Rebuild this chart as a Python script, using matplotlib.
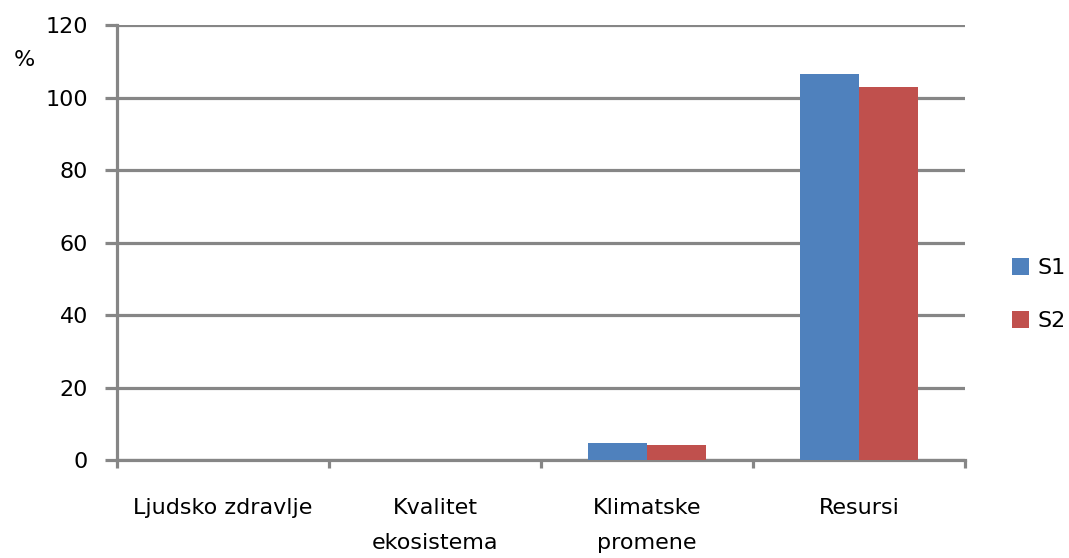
import numpy as np
import matplotlib
matplotlib.use("Agg")
import matplotlib.pyplot as plt

# Podaci
categories = ["Ljudsko zdravlje", "Kvalitet\nekosistema", "Klimatske\npromene", "Resursi"]
s1 = [0.0, 0.0, 4.8, 106.6]
s2 = [0.0, 0.0, 4.1, 102.9]
series_names = ["S1", "S2"]
yticks = [0, 20, 40, 60, 80, 100, 120]

plt.rcParams["font.family"] = ["DejaVu Sans"]
GRID = "#868686"
FS = 16

fig = plt.figure(figsize=(10.69, 5.58), dpi=100)
ax = fig.add_axes([0.1095, 0.1756, 0.7932, 0.7796])

x = np.arange(len(categories))
w = 0.28
ax.bar(x - w / 2, s1, w, color="#4F81BD", label=series_names[0], zorder=3)
ax.bar(x + w / 2, s2, w, color="#C0504D", label=series_names[1], zorder=3)

ax.set_xlim(-0.5, len(categories) - 0.5)
ax.set_ylim(0, 120)
ax.set_yticks(yticks)
ax.yaxis.grid(True, color=GRID, linewidth=2.3, zorder=0)
ax.set_axisbelow(True)

# granice kategorija kao glavni tickovi, nazivi na sredini
ax.set_xticks(np.arange(-0.5, len(categories), 1.0))
ax.set_xticklabels([])
ax.set_xticks(x, minor=True)
ax.set_xticklabels(categories, minor=True, fontsize=FS, linespacing=1.95)
ax.tick_params(axis="x", which="minor", length=0, pad=27)
ax.tick_params(axis="x", which="major", length=6, width=2.3, color=GRID)
ax.tick_params(axis="y", length=9, width=2.3, color=GRID, labelsize=FS, pad=12)

for side in ["top", "right"]:
    ax.spines[side].set_visible(False)
for side in ["left", "bottom"]:
    ax.spines[side].set_color(GRID)
    ax.spines[side].set_linewidth(2.3)

fig.text(0.013, 0.893, "%", fontsize=FS, ha="left", va="center")

ax.legend(loc="center left", bbox_to_anchor=(1.055, 0.38), frameon=False,
          fontsize=FS, handlelength=0.77, handleheight=0.77, labelspacing=1.5,
          handletextpad=0.4, borderpad=0, borderaxespad=0)

fig.savefig("out.png", dpi=100)
